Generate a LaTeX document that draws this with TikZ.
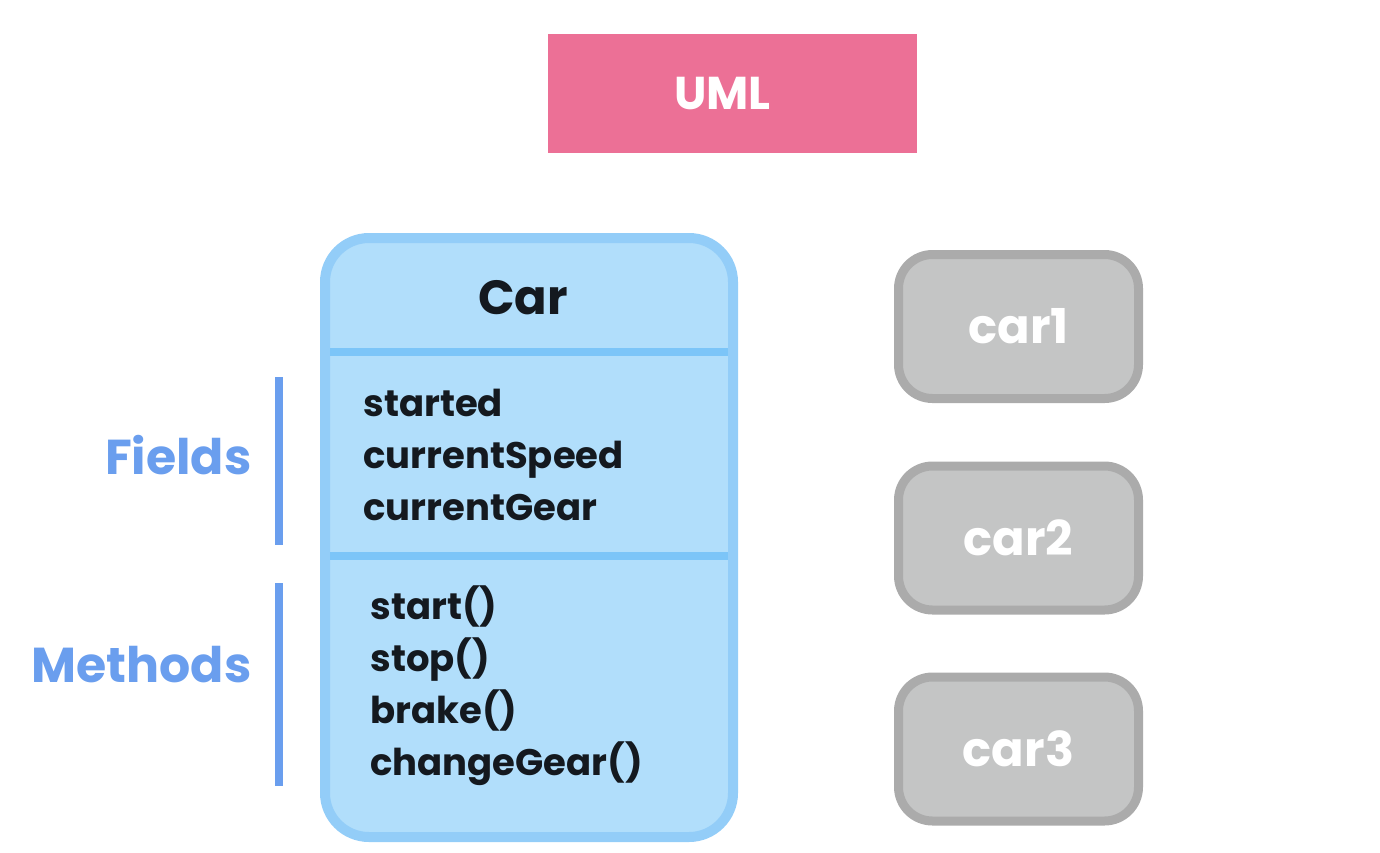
\documentclass[tikz,border=0pt]{standalone}
\usepackage{fontspec}
\setmainfont{Poppins}
\usepackage{tikz}
\usetikzlibrary{positioning,calc}
\definecolor{cpink}{HTML}{EC7096}
\definecolor{cfill}{HTML}{B1DEFB}
\definecolor{cedge}{HTML}{93CDF8}
\definecolor{cline}{HTML}{7CC5F8}
\definecolor{clbl}{HTML}{6A9EEE}
\definecolor{cgfill}{HTML}{C4C5C5}
\definecolor{cgedge}{HTML}{ABABAB}
\definecolor{cink}{HTML}{14191F}
\tikzset{
  title/.style={fill=cpink, minimum width=184.5pt, minimum height=59.5pt, text=white, font=\fontsize{23}{26}\selectfont\bfseries},
  classbox/.style={draw=cedge, line width=5pt, fill=cfill, rounded corners=22pt, minimum width=204pt, minimum height=299.5pt},
  divider/.style={draw=cline, line width=4pt},
  member/.style={anchor=west, align=left, inner sep=0pt, text=cink, font=\fontsize{18.5}{26}\selectfont\bfseries},
  side/.style={anchor=east, inner sep=0pt, text=clbl, font=\fontsize{24.5}{28}\selectfont\bfseries},
  bar/.style={draw=clbl, line width=4pt},
  objbox/.style={draw=cgedge, line width=4.5pt, fill=cgfill, rounded corners=17pt, minimum width=120pt, minimum height=72pt, text=white, font=\fontsize{24}{28}\selectfont\bfseries},
}
\begin{document}
\begin{tikzpicture}[x=0.5pt,y=-0.5pt]
\useasboundingbox (0,0) rectangle (1380,852);
% ---------------- title
\node[title] (uml) at (732.5,93.5) {UML\kern10pt};
% ---------------- class box
\node[classbox] (car) at (529,537.5) {};
\node[text=cink, font=\fontsize{24}{28}\selectfont\bfseries] (name) at (523,298) {Car};
\coordinate (d1) at (330,352);
\coordinate (d2) at (330,556);
\draw[divider] (d1) -- ++(398,0);
\draw[divider] (d2) -- ++(398,0);
\node[member] (fields) at (363,455) {started\\currentSpeed\\currentGear};
\node[member] (methods) at (370,686) {start()\\stop()\\brake()\\changeGear()};
% ---------------- labels on the left
\coordinate (fa) at (279,377);
\coordinate (fb) at (279,545);
\coordinate (ma) at (279,583);
\coordinate (mb) at (279,786);
\draw[bar] (fa) -- (fb);
\draw[bar] (ma) -- (mb);
\node[side] (flbl) at (252,455) {Fields};
\node[side] (mlbl) at (252,665) {Methods};
% ---------------- objects
\node[objbox] (car1) at (1018.5,326.5) {car1};
\node[objbox] (car2) at (1018.5,538) {car2};
\node[objbox] (car3) at (1018.5,749) {car3};
\end{tikzpicture}
\end{document}
